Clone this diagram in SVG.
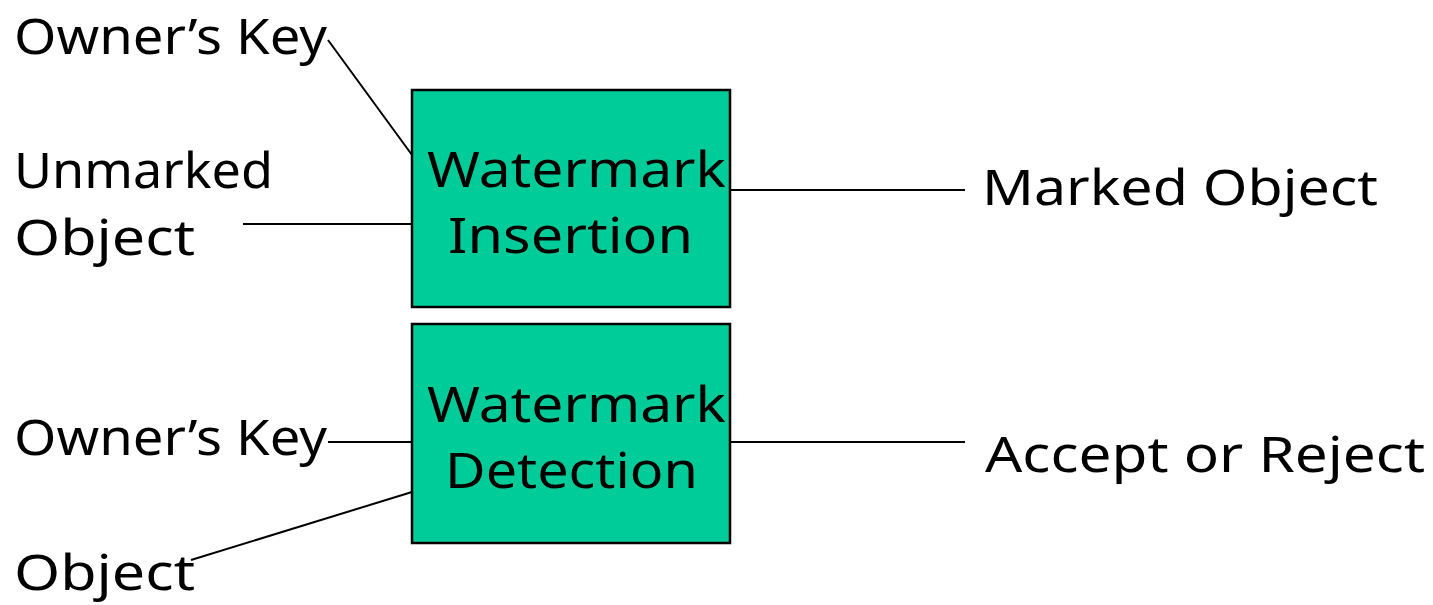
<svg xmlns="http://www.w3.org/2000/svg" width="1433" height="605" viewBox="0 0 1433 605">
  <style>
    .lbl { font-family: "Comic Sans MS", "Noto Sans", "DejaVu Sans", sans-serif; font-size: 50px; fill: #000; }
    .box { fill: #00CC99; stroke: #000; stroke-width: 2.5; }
    .wire { stroke: #000; stroke-width: 2; fill: none; }
  </style>
  <rect width="1433" height="605" fill="#fff"/>

  <!-- connectors -->
  <g id="connectors">
    <line class="wire" x1="328" y1="40" x2="412" y2="155"/>
    <line class="wire" x1="243" y1="224" x2="412" y2="224"/>
    <line class="wire" x1="730" y1="190" x2="965" y2="190"/>
    <line class="wire" x1="328" y1="442" x2="412" y2="442"/>
    <line class="wire" x1="191" y1="560" x2="412" y2="492"/>
    <line class="wire" x1="730" y1="442" x2="965" y2="442"/>
  </g>

  <!-- insertion block -->
  <g id="insertion">
    <rect class="box" x="412" y="90" width="318" height="217"/>
    <text class="lbl" x="427" y="187" textLength="299" lengthAdjust="spacingAndGlyphs">Watermark</text>
    <text class="lbl" x="448" y="253" textLength="245" lengthAdjust="spacingAndGlyphs">Insertion</text>
  </g>

  <!-- detection block -->
  <g id="detection">
    <rect class="box" x="412" y="324" width="318" height="219"/>
    <text class="lbl" x="427" y="422" textLength="299" lengthAdjust="spacingAndGlyphs">Watermark</text>
    <text class="lbl" x="445" y="488" textLength="253" lengthAdjust="spacingAndGlyphs">Detection</text>
  </g>

  <!-- inputs and outputs -->
  <g id="key-in-1">
    <text class="lbl" x="14" y="54" textLength="313" lengthAdjust="spacingAndGlyphs">Owner’s Key</text>
  </g>
  <g id="unmarked-in">
    <text class="lbl" x="14" y="188" textLength="259" lengthAdjust="spacingAndGlyphs">Unmarked</text>
    <text class="lbl" x="14" y="255" textLength="181" lengthAdjust="spacingAndGlyphs">Object</text>
  </g>
  <g id="marked-out">
    <text class="lbl" x="982" y="205" textLength="396" lengthAdjust="spacingAndGlyphs">Marked Object</text>
  </g>
  <g id="key-in-2">
    <text class="lbl" x="14" y="455" textLength="313" lengthAdjust="spacingAndGlyphs">Owner’s Key</text>
  </g>
  <g id="object-in">
    <text class="lbl" x="14" y="590" textLength="181" lengthAdjust="spacingAndGlyphs">Object</text>
  </g>
  <g id="verdict-out">
    <text class="lbl" x="985" y="472" textLength="440" lengthAdjust="spacingAndGlyphs">Accept or Reject</text>
  </g>
</svg>
